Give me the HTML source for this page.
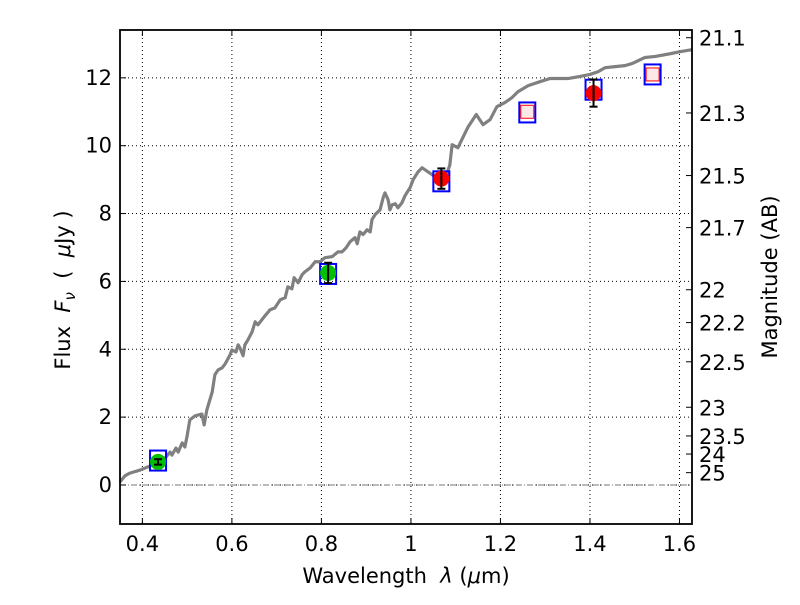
<!DOCTYPE html>
<html><head><meta charset="utf-8"><style>
body{margin:0;background:#fff}
svg text{font-family:"DejaVu Sans","Liberation Sans",sans-serif}
</style></head><body>
<svg id="c" width="800" height="600" xmlns="http://www.w3.org/2000/svg"></svg>
<script>
const specWave=[.350,.361,.372,.395,.417,.435,.451,.462,.466,.475,.480,.489,.495,.500,.506,.518,.533,.538,.544,.556,.562,.569,.578,.585,.596,.600,.609,.614,.618,.625,.629,.636,.645,.652,.658,.667,.676,.685,.696,.708,.719,.725,.734,.739,.748,.757,.763,.775,.786,.797,.808,.824,.837,.846,.855,.864,.875,.880,.886,.893,.902,.909,.913,.920,.931,.938,.942,.949,.953,.958,.965,.971,.980,.987,.998,1.005,1.016,1.025,1.038,1.047,1.056,1.065,1.076,1.087,1.092,1.105,1.116,1.128,1.146,1.161,1.177,1.192,1.210,1.226,1.239,1.262,1.289,1.311,1.351,1.378,1.400,1.418,1.434,1.456,1.478,1.494,1.523,1.546,1.579,1.601,1.628];
const specFlux=[.09,.27,.35,.44,.56,.68,.80,.97,.88,1.09,.97,1.24,1.12,1.45,1.92,2.04,2.09,1.77,2.21,2.74,3.25,3.39,3.45,3.57,3.84,3.98,3.92,4.13,4.04,3.81,4.13,4.28,4.51,4.81,4.72,4.87,5.02,5.16,5.22,5.46,5.52,5.84,5.78,6.11,5.96,6.20,6.28,6.40,6.58,6.58,6.70,6.73,6.87,6.87,6.99,7.17,7.29,7.11,7.46,7.38,7.52,7.46,7.82,7.97,8.11,8.47,8.61,8.41,8.11,8.26,8.29,8.17,8.32,8.53,8.76,9.00,9.23,9.35,9.23,9.15,9.06,9.15,9.00,9.44,10.03,9.94,10.24,10.56,10.92,10.62,10.77,11.15,11.27,11.42,11.59,11.77,11.89,11.98,11.98,12.04,12.10,12.18,12.30,12.33,12.36,12.42,12.60,12.63,12.71,12.77,12.83];
const modelWave=[0.435,0.815,1.068,1.26,1.408,1.54];
const modelFlux=[0.72,6.22,8.95,10.98,11.65,12.1];
const greenWave=[0.435,0.815];
const greenFlux=[0.68,6.25];
const greenErr=[0.08,0.3];
const redWave=[1.068,1.408];
const redFlux=[9.03,11.55];
const redErr=[0.3,0.4];
const limitWave=[1.26,1.54];
const limitFlux=[11.0,12.1];
const xTicks=[0.4,0.6,0.8,1.0,1.2,1.4,1.6];
const xTickLabels=["0.4","0.6","0.8","1","1.2","1.4","1.6"];
const yTicks=[0,2,4,6,8,10,12];
const magTicks=[21.1,21.3,21.5,21.7,22,22.2,22.5,23,23.5,24,25];

const L=120,R=692,T=30,B=524,X0=0.35,X1=1.628,Y0=-1.15,Y1=13.41;
const sx=v=>L+(v-X0)/(X1-X0)*(R-L);
const sy=v=>B-(v-Y0)/(Y1-Y0)*(B-T);
const svg=document.getElementById('c');
const NS="http://www.w3.org/2000/svg";
function mk(tag,at,name,txt){const e=document.createElementNS(NS,tag);for(const k in at)e.setAttribute(k,at[k]);


if(txt!==undefined)e.textContent=txt;svg.appendChild(e);return e;}
xTicks.forEach(v=>mk('line',{x1:sx(v),x2:sx(v),y1:T,y2:B,stroke:'#000','stroke-width':1,'stroke-dasharray':'1,3'},'x-grid-line'));
yTicks.forEach(v=>mk('line',{x1:L,x2:R,y1:sy(v),y2:sy(v),stroke:'#000','stroke-width':1,'stroke-dasharray':'1,3'},'y-grid-line'));
mk('line',{x1:L,x2:R,y1:sy(0),y2:sy(0),stroke:'#777','stroke-width':1,'stroke-dasharray':'6,2,1,2'},'zero-line');
mk('polyline',{points:specWave.map((w,i)=>sx(w)+','+sy(specFlux[i])).join(' '),fill:'none',stroke:'#808080','stroke-width':3.2,'stroke-linejoin':'round'},'model-spectrum');
modelWave.forEach((w,i)=>mk('rect',{x:sx(w)-8,y:sy(modelFlux[i])-10,width:16,height:20,fill:'none',stroke:'#0000ff','stroke-width':2},'model-photometry-square'));
limitWave.forEach((w,i)=>mk('rect',{x:sx(w)-6.5,y:sy(limitFlux[i])-6.5,width:13,height:13,fill:'#fde8e8',stroke:'#ff0000','stroke-width':1},'upper-limit-marker'));
function pts(W,F,E,col,nm){W.forEach((w,i)=>{const x=sx(w);
mk('circle',{cx:x,cy:sy(F[i]),r:8,fill:col},nm);
mk('line',{x1:x,x2:x,y1:sy(F[i]-E[i]),y2:sy(F[i]+E[i]),stroke:'#000','stroke-width':2},'error-bar');
[F[i]-E[i],F[i]+E[i]].forEach(v=>mk('line',{x1:x-4,x2:x+4,y1:sy(v),y2:sy(v),stroke:'#000','stroke-width':2},'error-cap'));});}
pts(greenWave,greenFlux,greenErr,'#00c000','observed-point-green');
pts(redWave,redFlux,redErr,'#ff0000','observed-point-red');
mk('rect',{x:L,y:T,width:R-L,height:B-T,fill:'none',stroke:'#000','stroke-width':1.8},'plot-frame');
xTicks.forEach((v,i)=>{mk('line',{x1:sx(v),x2:sx(v),y1:B,y2:B-6,stroke:'#000'},'x-tick');mk('line',{x1:sx(v),x2:sx(v),y1:T,y2:T+6,stroke:'#000'},'x-tick');
mk('text',{x:sx(v),y:B+27,'font-size':21,'text-anchor':'middle'},'x-tick-label',xTickLabels[i]);});
yTicks.forEach(v=>{mk('line',{x1:L,x2:L+6,y1:sy(v),y2:sy(v),stroke:'#000'},'y-tick');
mk('text',{x:L-8,y:sy(v)+7,'font-size':21,'text-anchor':'end'},'y-tick-label',String(v));});
magTicks.forEach(m=>{const y=sy(Math.pow(10,(23.9-m)/2.5));
mk('line',{x1:R-6,x2:R,y1:y,y2:y,stroke:'#000'},'mag-tick');
mk('text',{x:R+7,y:y+8,'font-size':21},'mag-tick-label',String(m));});
const xt=mk('text',{x:406,y:583,'font-size':21,'text-anchor':'middle'},'x-axis-title');
xt.innerHTML='Wavelength&#160;&#160;<tspan font-style="italic">λ</tspan> (<tspan font-style="italic">μ</tspan>m)';
const yt=mk('text',{x:70,y:290,'font-size':21,'text-anchor':'middle',transform:'rotate(-90 70 290)'},'y-axis-title');
yt.innerHTML='Flux&#160;&#160;<tspan font-style="italic">F</tspan><tspan font-style="italic" font-size="15" dy="5">ν</tspan><tspan dy="-5">&#160;&#160;(&#160;&#160;</tspan><tspan font-style="italic">μ</tspan>Jy )';
mk('text',{x:777,y:277,'font-size':21,'text-anchor':'middle',transform:'rotate(-90 777 277)'},'right-axis-title','Magnitude (AB)');
</script>
</body></html>
